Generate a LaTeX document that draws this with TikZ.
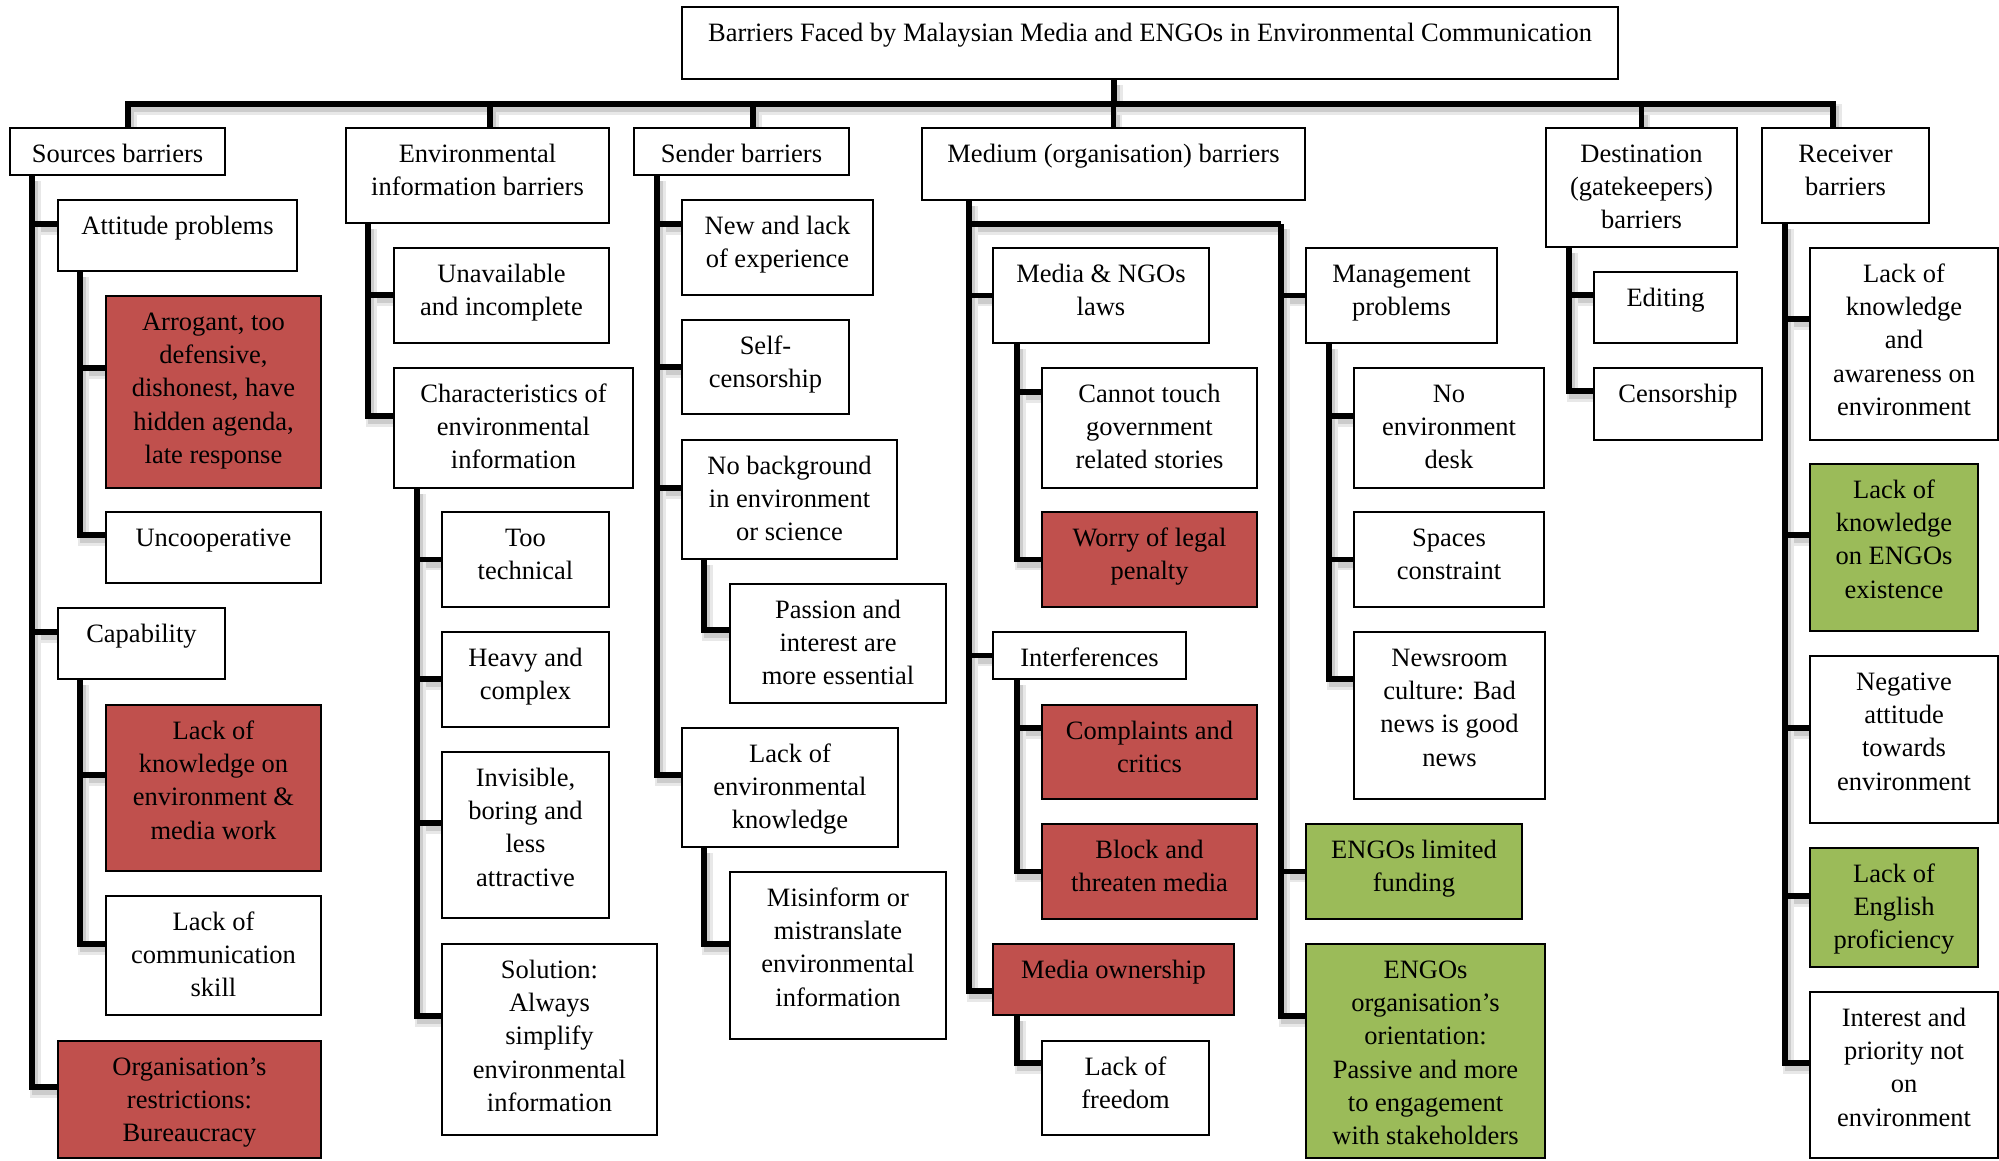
\documentclass[tikz,border=0pt]{standalone}
\usepackage{fontspec}
\setmainfont{Liberation Serif}
\usetikzlibrary{fit}

\pgfdeclarelayer{paper}
\pgfdeclarelayer{shade}
\pgfdeclarelayer{wires}
\pgfsetlayers{paper,shade,wires,main}

\definecolor{cellredfill}{RGB}{192,80,77}
\definecolor{cellgreenfill}{RGB}{155,187,89}

\tikzset{
  cellbox/.style={draw=black, line width=2pt, inner sep=0pt, fill=white},
  cellred/.style={cellbox, fill=cellredfill},
  cellgreen/.style={cellbox, fill=cellgreenfill},
  celltext/.style={inner sep=0pt, align=center, font=\fontsize{26.5}{33.3}\selectfont},
  wire/.style={draw=black, line width=5.5pt},
  wireshadeA/.style={draw=black!9, line width=11pt, transform canvas={shift={(3pt,-5pt)}}},
  wireshadeB/.style={draw=black!20, line width=6pt, transform canvas={shift={(3pt,-5pt)}}},
}

% box: [style] name, x0, y0, x1, y1, text (pixel coordinates, y downwards)
\newcommand\cell[7][cellbox]{%
  \node[#1, fit={(#3,#4) (#5,#6)}] (#2) {};
  \node[celltext, anchor=north] (#2-t) at ([yshift=-11.7pt]#2.north) {\strut#7};
}
% connector with a soft drop shadow
\newcommand\wirepath[1]{%
  \begin{pgfonlayer}{shade}\path[wireshadeA] #1;\path[wireshadeB] #1;\end{pgfonlayer}
  \begin{pgfonlayer}{wires}\path[wire] #1;\end{pgfonlayer}%
}
% branch: parent, trunk offset from parent's left edge, child, vertical offset at child
\newcommand\branch[4]{\wirepath{([xshift=#2pt]#1.south west) |- ([yshift=#4pt]#3.west)}}

\begin{document}
\begin{tikzpicture}[x=1pt, y=-1pt]
\begin{pgfonlayer}{paper}
  \fill[white] (0,0) rectangle (1999,1160);
\end{pgfonlayer}
\useasboundingbox (0,0) rectangle (1999,1160);

% ---- title and first level
\cell{title}{682}{7}{1618}{79}{Barriers Faced by Malaysian Media and ENGOs in Environmental Communication}
\cell{src}{10}{128}{225}{175}{Sources barriers}
\cell{env}{346}{128}{609}{223}{Environmental\\information barriers}
\cell{snd}{634}{128}{849}{175}{Sender barriers}
\cell{med}{922}{128}{1305}{200}{Medium (organisation) barriers}
\cell{dst}{1546}{128}{1737}{247}{Destination\\(gatekeepers)\\barriers}
\cell{rcv}{1762}{128}{1929}{223}{Receiver\\barriers}

% ---- sources
\cell{att}{58}{200}{297}{271}{Attitude problems}
\cell[cellred]{arr}{106}{296}{321}{488}{Arrogant, too\\defensive,\\dishonest, have\\hidden agenda,\\late response}
\cell{unc}{106}{512}{321}{583}{Uncooperative}
\cell{cap}{58}{608}{225}{679}{Capability}
\cell[cellred]{lkn}{106}{705}{321}{871}{Lack of\\knowledge on\\environment \&\\media work}
\cell{lcs}{106}{896}{321}{1015}{Lack of\\communication\\skill}
\cell[cellred]{org}{58}{1041}{321}{1158}{Organisation’s\\restrictions:\\Bureaucracy}

% ---- environmental information
\cell{una}{394}{248}{609}{343}{Unavailable\\and incomplete}
\cell{chr}{394}{368}{633}{488}{Characteristics of\\environmental\\information}
\cell{tec}{442}{512}{609}{607}{Too\\technical}
\cell{hvy}{442}{632}{609}{727}{Heavy and\\complex}
\cell{inv}{442}{752}{609}{918}{Invisible,\\boring and\\less\\attractive}
\cell{sol}{442}{944}{657}{1135}{Solution:\\Always\\simplify\\environmental\\information}

% ---- sender
\cell{nlx}{682}{200}{873}{295}{New and lack\\of experience}
\cell{slf}{682}{320}{849}{414}{Self-\\censorship}
\cell{nbg}{682}{440}{897}{559}{No background\\in environment\\or science}
\cell{pas}{730}{584}{946}{703}{Passion and\\interest are\\more essential}
\cell{lek}{682}{728}{898}{847}{Lack of\\environmental\\knowledge}
\cell{mis}{730}{872}{946}{1039}{Misinform or\\mistranslate\\environmental\\information}

% ---- medium
\cell{mnl}{993}{248}{1209}{343}{Media \& NGOs\\laws}
\cell{ctg}{1042}{368}{1257}{488}{Cannot touch\\government\\related stories}
\cell[cellred]{wor}{1042}{512}{1257}{607}{Worry of legal\\penalty}
\cell{itf}{993}{632}{1186}{679}{Interferences}
\cell[cellred]{cmp}{1042}{705}{1257}{799}{Complaints and\\critics}
\cell[cellred]{blk}{1042}{824}{1257}{919}{Block and\\threaten media}
\cell[cellred]{own}{993}{944}{1234}{1015}{Media ownership}
\cell{fre}{1042}{1041}{1209}{1135}{Lack of\\freedom}
\cell{mgp}{1306}{248}{1497}{343}{Management\\problems}
\cell{ned}{1354}{368}{1544}{488}{No\\environment\\desk}
\cell{spc}{1354}{512}{1544}{607}{Spaces\\constraint}
\cell{nws}{1354}{632}{1545}{799}{Newsroom\\culture: Bad\\news is good\\news}
\cell[cellgreen]{fnd}{1306}{824}{1522}{919}{ENGOs limited\\funding}
\cell[cellgreen]{eor}{1306}{944}{1545}{1158}{ENGOs\\organisation’s\\orientation:\\Passive and more\\to engagement\\with stakeholders}

% ---- destination
\cell{edt}{1594}{272}{1737}{343}{Editing}
\cell{cen}{1594}{368}{1762}{440}{Censorship}

% ---- receiver
\cell{lka}{1810}{248}{1998}{440}{Lack of\\knowledge\\and\\awareness on\\environment}
\cell[cellgreen]{lke}{1810}{464}{1978}{631}{Lack of\\knowledge\\on ENGOs\\existence}
\cell{neg}{1810}{656}{1998}{823}{Negative\\attitude\\towards\\environment}
\cell[cellgreen]{len}{1810}{848}{1978}{967}{Lack of\\English\\proficiency}
\cell{ipn}{1810}{992}{1998}{1158}{Interest and\\priority not\\on\\environment}

% ---- top bar
\coordinate (hub) at (1114,104);
\wirepath{(title.south -| hub) -- (hub)}
\wirepath{([xshift=10.5pt]src.north) |- (hub)}
\wirepath{([xshift=12.5pt]env.north) |- (hub)}
\wirepath{([xshift=11.5pt]snd.north) |- (hub)}
\wirepath{(med.north) |- (hub)}
\wirepath{(dst.north) |- (hub)}
\wirepath{([xshift=-12.5pt]rcv.north) |- (hub)}

% ---- sources tree
\branch{src}{23}{att}{11.5}
\branch{src}{23}{cap}{11.5}
\branch{src}{23}{org}{12.5}
\branch{att}{23}{arr}{24}
\branch{att}{23}{unc}{12.5}
\branch{cap}{23}{lkn}{13}
\branch{cap}{23}{lcs}{11.5}

% ---- environmental information tree
\branch{env}{23}{una}{0.5}
\branch{env}{23}{chr}{12}
\branch{chr}{24}{tec}{0}
\branch{chr}{24}{hvy}{0.5}
\branch{chr}{24}{inv}{12}
\branch{chr}{24}{sol}{23.5}

% ---- sender tree
\branch{snd}{24}{nlx}{23.5}
\branch{snd}{24}{slf}{0}
\branch{snd}{24}{nbg}{11.5}
\branch{snd}{24}{lek}{12.5}
\branch{nbg}{23}{pas}{13.5}
\branch{lek}{23}{mis}{11.5}

% ---- medium tree
\coordinate (medR) at (1281,224);
\wirepath{([xshift=48pt]med.south west) |- (medR)}
\branch{med}{48}{mnl}{0}
\branch{med}{48}{itf}{0}
\branch{med}{48}{own}{-11.5}
\branch{mnl}{25}{ctg}{36}
\branch{mnl}{25}{wor}{0}
\branch{itf}{25}{cmp}{24}
\branch{itf}{25}{blk}{0}
\branch{own}{25}{fre}{25}
\wirepath{(medR) |- (mgp.west)}
\wirepath{(medR) |- (fnd.west)}
\wirepath{(medR) |- ([yshift=35pt]eor.west)}
\branch{mgp}{24}{ned}{12}
\branch{mgp}{24}{spc}{0}
\branch{mgp}{24}{nws}{36.5}

% ---- destination tree
\branch{dst}{24}{edt}{12.5}
\branch{dst}{24}{cen}{13}

% ---- receiver tree
\branch{rcv}{24}{lka}{25}
\branch{rcv}{24}{lke}{12.5}
\branch{rcv}{24}{neg}{11.5}
\branch{rcv}{24}{len}{11.5}
\branch{rcv}{24}{ipn}{12}
\end{tikzpicture}
\end{document}
